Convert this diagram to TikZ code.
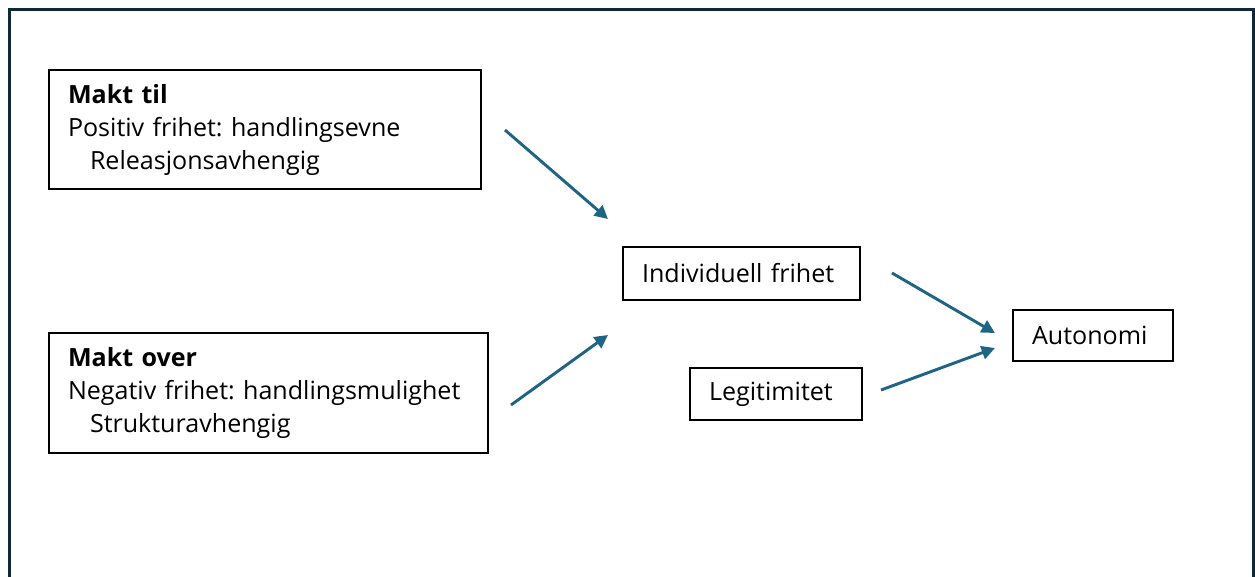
\documentclass[tikz,border=0pt]{standalone}
\usepackage{fontspec}
\setmainfont{Open Sans}[Ligatures={NoCommon}]
\usetikzlibrary{arrows.meta}
\definecolor{framecol}{HTML}{0E2838}
\definecolor{arrowcol}{HTML}{1F6483}
\tikzset{
  box/.style={draw=black, line width=2.2pt, rectangle, align=left, inner xsep=14.25pt, inner ysep=0pt,
    font=\fontsize{18.8pt}{24.75pt}\selectfont, anchor=center},
  conn/.style={draw=arrowcol, line width=2.2pt, -{Triangle[length=10pt,width=10pt]}},
}
\frenchspacing
\begin{document}
\begin{tikzpicture}[x=0.75pt,y=-0.75pt]
\useasboundingbox (0,0) rectangle (1255,576);
% outer frame
\draw[framecol, line width=2.4pt] (9.5,590) -- (9.5,9.5) -- (1253.5,9.5) -- (1253.5,590);
% boxes
\node[box, text width=295.5pt, minimum height=89.25pt] (til) at (265,129.5)
  {\textbf{Makt til}\\Positiv frihet: handlingsevne\\\hspace*{16.5pt}Releasjonsavhengig};
\node[box, text width=300.75pt, minimum height=90pt] (over) at (268.5,393)
  {\textbf{Makt over}\\Negativ frihet: handlingsmulighet\\\hspace*{16.5pt}Strukturavhengig};
\node[box, text width=149.25pt, minimum height=39.75pt] (ind) at (741.5,273.5) {Individuell frihet};
\node[box, text width=100.5pt, minimum height=39pt] (leg) at (776,394) {Legitimitet};
\node[box, text width=91.5pt, minimum height=38.25pt] (aut) at (1093,335.5) {Autonomi};
% arrow endpoints
\coordinate (a1s) at (505,130);
\coordinate (a1e) at (608,219);
\coordinate (a2s) at (511,405);
\coordinate (a2e) at (608,335);
\coordinate (a3s) at (892,273);
\coordinate (a3e) at (995,333);
\coordinate (a4s) at (881,390);
\coordinate (a4e) at (995,348);
\draw[conn] (a1s) -- (a1e);
\draw[conn] (a2s) -- (a2e);
\draw[conn] (a3s) -- (a3e);
\draw[conn] (a4s) -- (a4e);
\end{tikzpicture}
\end{document}
